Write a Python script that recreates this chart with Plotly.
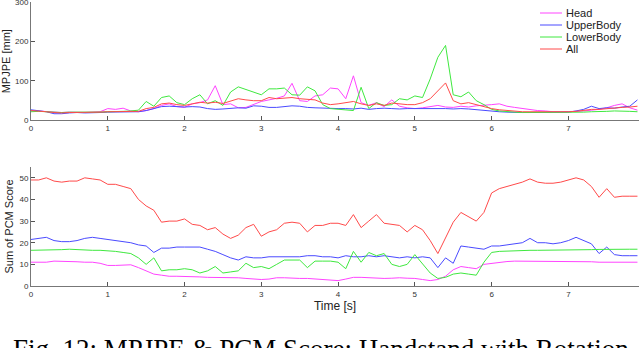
import plotly.graph_objects as go

# time axis [s]
time_s = [round(i * 0.1, 1) for i in range(80)]

series_names = ["Head", "UpperBody", "LowerBody", "All"]
series_colors = ["#ff44ff", "#4a4aff", "#3fe83f", "#ff4a4a"]

# MPJPE [mm]
mpjpe_head = [25, 24, 23, 21, 20, 21, 20, 20, 21, 22,
              30, 28, 31, 24, 22, 25, 30, 38, 42, 35,
              33, 42, 45, 52, 88, 40, 42, 32, 33, 40,
              48, 52, 56, 62, 94, 50, 48, 62, 65, 82,
              80, 55, 113, 45, 38, 45, 35, 52, 36, 32,
              30, 32, 35, 38, 34, 33, 36, 34, 37, 38,
              40, 42, 36, 33, 30, 27, 25, 24, 22, 22,
              22, 23, 24, 26, 28, 32, 38, 42, 32, 26]
mpjpe_upper = [27, 25, 22, 17, 17, 19, 20, 19, 19, 20,
               21, 21, 21, 21, 22, 25, 30, 35, 36, 35,
               34, 35, 34, 30, 28, 29, 31, 32, 31, 37,
               36, 33, 33, 35, 37, 36, 33, 32, 31, 30,
               30, 30, 29, 31, 28, 30, 31, 30, 29, 30,
               30, 30, 31, 30, 30, 29, 30, 29, 27, 25,
               23, 22, 21, 20, 20, 20, 20, 20, 20, 21,
               21, 24, 28, 36, 30, 32, 31, 34, 36, 52]
mpjpe_lower = [22, 23, 22, 21, 20, 21, 21, 20, 20, 21,
               22, 22, 23, 24, 26, 48, 36, 58, 62, 45,
               40, 55, 65, 42, 50, 38, 72, 85, 78, 70,
               65, 80, 80, 82, 65, 64, 85, 75, 40, 30,
               28, 26, 25, 84, 30, 45, 38, 40, 55, 52,
               62, 58, 105, 160, 190, 65, 60, 72, 50, 40,
               28, 24, 22, 21, 20, 20, 20, 20, 20, 20,
               20, 20, 21, 22, 22, 23, 24, 24, 23, 22]
mpjpe_all = [25, 24, 22, 20, 19, 20, 20, 20, 21, 21,
             22, 22, 22, 22, 23, 30, 33, 42, 44, 40,
             38, 42, 46, 44, 46, 43, 50, 55, 52, 50,
             50, 58, 55, 56, 58, 55, 54, 52, 44, 40,
             42, 45, 48, 42, 38, 42, 38, 44, 42, 40,
             40, 45, 55, 75, 95, 50, 42, 45, 40, 35,
             30, 27, 25, 23, 22, 22, 22, 21, 21, 21,
             22, 23, 25, 28, 28, 30, 32, 33, 34, 36]

# Sum of PCM score
pcm_head = [11, 11, 11, 11.5, 11.5, 11.5, 11.2, 11, 11, 10.5,
            9.5, 9.5, 9.5, 9.8, 8.5, 7, 5.5, 5, 4.5, 4.5,
            4.5, 4.2, 4.2, 4, 4, 4, 4, 3.8, 3.5, 3.2,
            3, 3.2, 3.8, 3.8, 3.5, 3.5, 3.5, 3.3, 3, 2.8,
            2.5, 3.2, 4, 4, 3.8, 3.5, 3.5, 3.6, 3.8, 3.6,
            3.5, 3, 2.5, 3, 4.5, 7.5, 9, 8.5, 8, 10,
            10.5, 11, 11.3, 11.5, 11.5, 11.5, 11.5, 11.5, 11.5, 11.5,
            11.5, 11.5, 11.3, 11.2, 11, 11, 10.8, 10.8, 10.8, 11]
pcm_upper = [21.5, 22, 22.5, 21, 20.5, 20.5, 21, 22, 22.5, 22,
             21.5, 21, 20.5, 20, 19, 18.5, 15.5, 17.5, 17.5, 18,
             18, 18, 18, 17, 16, 14.5, 13, 12, 13.5, 13,
             13, 13.5, 13.5, 13.5, 13.5, 13.5, 14, 14, 13.5, 13.5,
             13, 14, 13.5, 13.5, 14, 13.5, 14, 13.5, 13, 13.5,
             13, 13.5, 13, 8.5, 13, 10.5, 18.5, 18, 17.5, 17,
             18.5, 18.5, 19, 19.5, 20, 22, 20, 20, 19.5, 20,
             21, 22.5, 21, 19.5, 15, 18, 14.5, 14, 14, 14]
pcm_lower = [16.5, 16.5, 16.5, 16.5, 16.8, 17, 16.8, 16.5, 16.5, 16.5,
             16.3, 16, 15.5, 15, 13, 10, 13, 7, 7.5, 7.5,
             8, 7.5, 6, 7, 9, 6, 6.5, 7, 10.5, 8.5,
             9, 8, 10, 12, 12, 12, 8.5, 11.5, 11.5, 11.5,
             11, 8, 16, 11, 15.5, 14, 15, 10, 9, 10,
             14.5, 10, 6, 3.5, 4, 5.5, 6, 5.5, 5, 11,
             15.5, 16, 16.2, 16.3, 16.3, 16.5, 16.5, 16.5, 16.5, 16.6,
             16.7, 16.7, 16.8, 16.8, 16.9, 17, 17, 17, 17, 17]
pcm_all = [49, 49, 50, 48.5, 48, 48.5, 48.5, 50, 49.5, 49,
           47, 47, 46, 45, 40, 37, 35, 29.5, 30, 30,
           31, 28.5, 28, 26, 27, 24, 22, 23.5, 27, 28.5,
           23, 25, 26, 29, 29.5, 29, 25, 28, 28, 29,
           29, 28, 33, 27, 30, 33, 29, 28.5, 28, 25,
           28, 26, 21, 15, 22, 29.5, 34, 32, 30, 34,
           43, 45, 46, 47, 48, 49.5, 48, 47.5, 47.5, 48,
           49, 50, 49, 46, 41, 45, 41, 41.5, 41.5, 41.5]

mpjpe_series = [mpjpe_head, mpjpe_upper, mpjpe_lower, mpjpe_all]
pcm_series = [pcm_head, pcm_upper, pcm_lower, pcm_all]

fig = go.Figure()

for name, color, vals in zip(series_names, series_colors, mpjpe_series):
    fig.add_trace(go.Scatter(x=time_s, y=vals, name=name, mode="lines",
                             line=dict(color=color, width=1),
                             xaxis="x", yaxis="y", showlegend=False))

for name, color, vals in zip(series_names, series_colors, pcm_series):
    fig.add_trace(go.Scatter(x=time_s, y=vals, name=name, mode="lines",
                             line=dict(color=color, width=1),
                             xaxis="x2", yaxis="y2", showlegend=False))

axis_style = dict(
    showline=True, linecolor="#777", linewidth=1,
    ticks="inside", ticklen=4, tickcolor="#555", tickwidth=1,
    showgrid=False, zeroline=False, mirror=False, automargin=False,
    ticklabeloverflow="allow",
    tickfont=dict(family="Liberation Sans, Arial", size=8, color="#333"),
)
title_font = dict(family="Liberation Sans, Arial", size=11, color="#222")

fig.update_layout(
    width=640, height=348,
    margin=dict(l=31, r=1, t=2, b=62, autoexpand=False),
    paper_bgcolor="white", plot_bgcolor="white",
    showlegend=False,
    xaxis=dict(domain=[0, 1], range=[0, 7.92], dtick=1, anchor="y", **axis_style),
    yaxis=dict(domain=[0.583, 1], range=[0, 300], dtick=100, anchor="x",
               title=dict(text="MPJPE [mm]", standoff=2, font=title_font),
               **axis_style),
    xaxis2=dict(domain=[0, 1], range=[0, 7.92], dtick=1, anchor="y2",
                title=dict(text="Time [s]", standoff=3,
                           font=dict(family="Liberation Sans, Arial", size=12, color="#222")),
                **axis_style),
    yaxis2=dict(domain=[0, 0.419], range=[0, 55], dtick=10, anchor="x2",
                title=dict(text="Sum of PCM Score", standoff=3, font=title_font),
                **axis_style),
)

# legend drawn as key lines + labels in the top-right corner of the upper panel
for i, (name, color) in enumerate(zip(series_names, series_colors)):
    ypos = 13 + 12 * i
    fig.add_shape(type="line", xref="paper", yref="paper",
                  x0=(540 - 31) / 608, x1=(562 - 31) / 608,
                  y0=(286 - ypos) / 284, y1=(286 - ypos) / 284,
                  line=dict(color=color, width=1))
    fig.add_annotation(text=name, xref="paper", yref="paper",
                       x=(564 - 31) / 608, y=(286 - ypos) / 284,
                       xanchor="left", yanchor="middle", showarrow=False,
                       font=dict(family="Liberation Sans, Arial", size=11, color="#222"))

fig.add_annotation(text="Fig. 12: MPJPE & PCM Score: Handstand with Rotation",
                   xref="paper", yref="paper", x=(321 - 31) / 608, y=-0.162,
                   xanchor="center", yanchor="top", showarrow=False,
                   font=dict(family="Liberation Serif, Times New Roman", size=27, color="black"))

# page body has a default 8px margin; drop it so the figure sits at the window origin
fig.write_html("out.html", config={"displayModeBar": False},
               post_script="document.body.style.margin='0px';")
